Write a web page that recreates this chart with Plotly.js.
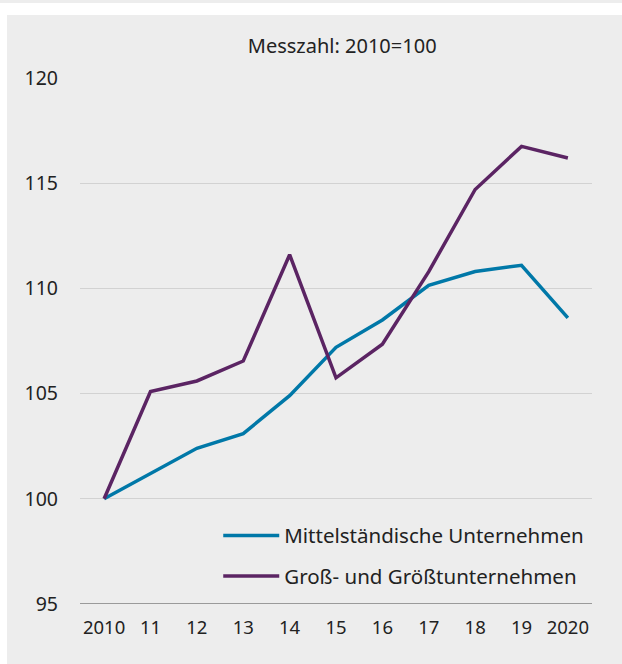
<!DOCTYPE html>
<html><head><meta charset="utf-8">
<script src="https://cdn.plot.ly/plotly-3.0.1.min.js"></script>
<style>
html,body{margin:0;padding:0;background:#fff;width:622px;height:664px;overflow:hidden;}
#topbar{position:absolute;left:0;top:0;width:622px;height:3px;background:#ededed;}
#chart{position:absolute;left:7px;top:15px;width:615px;height:649px;}
</style></head>
<body><div id="topbar"></div><div id="chart"></div>
<script>
const years = [2010, 2011, 2012, 2013, 2014, 2015, 2016, 2017, 2018, 2019, 2020];
const tickLabels = ["2010", "11", "12", "13", "14", "15", "16", "17", "18", "19", "2020"];
const mittel = [100, 101.2, 102.4, 103.1, 104.9, 107.2, 108.5, 110.15, 110.8, 111.1, 108.6];
const gross = [100, 105.1, 105.6, 106.55, 111.6, 105.75, 107.35, 110.8, 114.7, 116.75, 116.2];
const seriesNames = ["Mittelständische Unternehmen", "Groß- und Größtunternehmen"];
const fontFam = "Noto Sans, Open Sans, sans-serif";

const traces = [
  {x: years, y: mittel, name: seriesNames[0], type: "scatter", mode: "lines",
   line: {color: "#0078a8", width: 3.5}, legendgroup: "a"},
  {x: years, y: gross, name: seriesNames[1], type: "scatter", mode: "lines",
   line: {color: "#5b2463", width: 3.5}, legendgroup: "b"}
];

const layout = {
  width: 615, height: 649,
  paper_bgcolor: "#ededed", plot_bgcolor: "#ededed",
  margin: {l: 73, r: 30, t: 63, b: 60},
  font: {family: fontFam, size: 19, color: "#222"},
  title: {text: "Messzahl: 2010=100", x: 0.545, xanchor: "center", y: 0.953, yanchor: "middle",
          font: {family: fontFam, size: 20, color: "#222"}},
  xaxis: {range: [2009.48, 2020.52], tickvals: years, ticktext: tickLabels,
          showgrid: false, zeroline: false, showline: false, ticks: "", ticklabelstandoff: 10,
          tickfont: {family: fontFam, size: 18.5, color: "#222"}},
  yaxis: {range: [95, 120], tickvals: [95, 100, 105, 110, 115, 120], showgrid: true,
          gridcolor: "#d2d2d2", gridwidth: 1, zeroline: false, ticks: "", ticklabelstandoff: 21,
          tickfont: {family: fontFam, size: 19.5, color: "#222"}},
  shapes: [{type: "line", xref: "paper", yref: "y", x0: 0, x1: 1, y0: 95, y1: 95,
            line: {color: "#9a9a9a", width: 2}}],
  showlegend: true,
  legend: {x: 0.27, y: 0.168, xanchor: "left", yanchor: "top", bgcolor: "rgba(0,0,0,0)",
           font: {family: fontFam, size: 20.5, color: "#222"}, itemwidth: 56,
           traceorder: "grouped", tracegroupgap: 11}
};
Plotly.newPlot("chart", traces, layout, {staticPlot: true, displayModeBar: false});
</script></body></html>
